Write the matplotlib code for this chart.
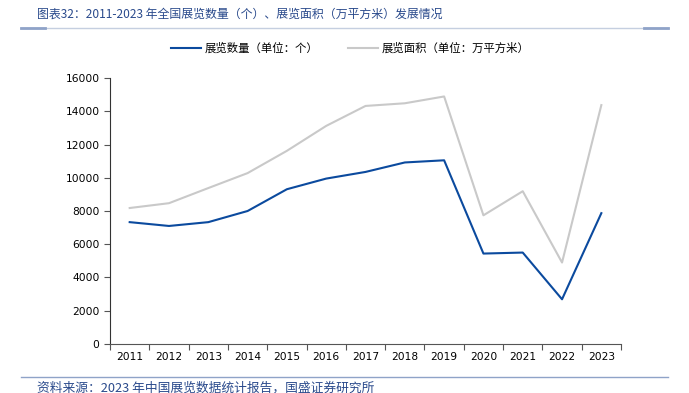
import matplotlib.pyplot as plt
from matplotlib.lines import Line2D

plt.rcParams['font.family'] = ['Noto Sans CJK SC', 'DejaVu Sans']

years = ['2011', '2012', '2013', '2014', '2015', '2016', '2017',
         '2018', '2019', '2020', '2021', '2022', '2023']
count = [7330, 7100, 7330, 8000, 9310, 9950, 10350, 10920, 11050, 5440, 5500, 2690, 7870]
area = [8180, 8470, 9380, 10280, 11620, 13120, 14320, 14480, 14890, 7740, 9190, 4900, 14370]

fig = plt.figure(figsize=(6.89, 3.93), dpi=100)
ax = fig.add_axes([0.1597, 0.1247, 0.7416, 0.6768])

x = list(range(len(years)))
ax.plot(x, area, color='#c9c9c9', lw=1.5)
ax.plot(x, count, color='#0b4a9e', lw=1.5)

ax.set_xlim(-0.5, len(years) - 0.5)
ax.set_ylim(0, 16000)
ax.set_yticks(range(0, 16001, 2000))
ax.set_xticks([i - 0.5 for i in range(len(years) + 1)])
ax.set_xticklabels([])
ax.set_xticks(x, minor=True)
ax.set_xticklabels(years, minor=True, family='DejaVu Sans', fontsize=7.7)
for t in ax.get_yticklabels():
    t.set_family('DejaVu Sans')
    t.set_fontsize(7.7)
ax.tick_params(axis='x', which='minor', length=0, pad=6)
ax.tick_params(axis='x', which='major', length=4, direction='out', color='#555555')
ax.tick_params(axis='y', length=4, direction='out', color='#555555')
for s in ['top', 'right']:
    ax.spines[s].set_visible(False)
ax.spines['left'].set_color('#333333')
ax.spines['bottom'].set_color('#555555')

handles = [Line2D([], [], color='#0b4a9e', lw=1.5), Line2D([], [], color='#c9c9c9', lw=1.5)]
labels = ['展览数量（单位：个）', '展览面积（单位：万平方米）']
fig.legend(handles, labels, loc='center', bbox_to_anchor=(0.508, 0.878), ncol=2,
           frameon=False, fontsize=8.2, handlelength=2.65, columnspacing=2.6,
           handletextpad=0.3)

# title and source
fig.text(0.054, 0.963, '图表32：2011-2023 年全国展览数量（个）、展览面积（万平方米）发展情况',
         fontsize=8.6, color='#2a4a8c', style='italic', va='center')
fig.text(0.054, 0.013, '资料来源：2023 年中国展览数据统计报告，国盛证券研究所',
         fontsize=9.2, color='#2a4a8c', style='italic', va='center')
fig.add_artist(Line2D([0.03, 0.97], [0.928, 0.928], color='#c5cfe0', lw=1))
fig.add_artist(Line2D([0.03, 0.065], [0.928, 0.928], color='#8fa3c8', lw=2))
fig.add_artist(Line2D([0.935, 0.97], [0.928, 0.928], color='#8fa3c8', lw=2))
fig.add_artist(Line2D([0.03, 0.97], [0.041, 0.041], color='#8fa3c8', lw=1))

fig.savefig('out.png', dpi=100)
